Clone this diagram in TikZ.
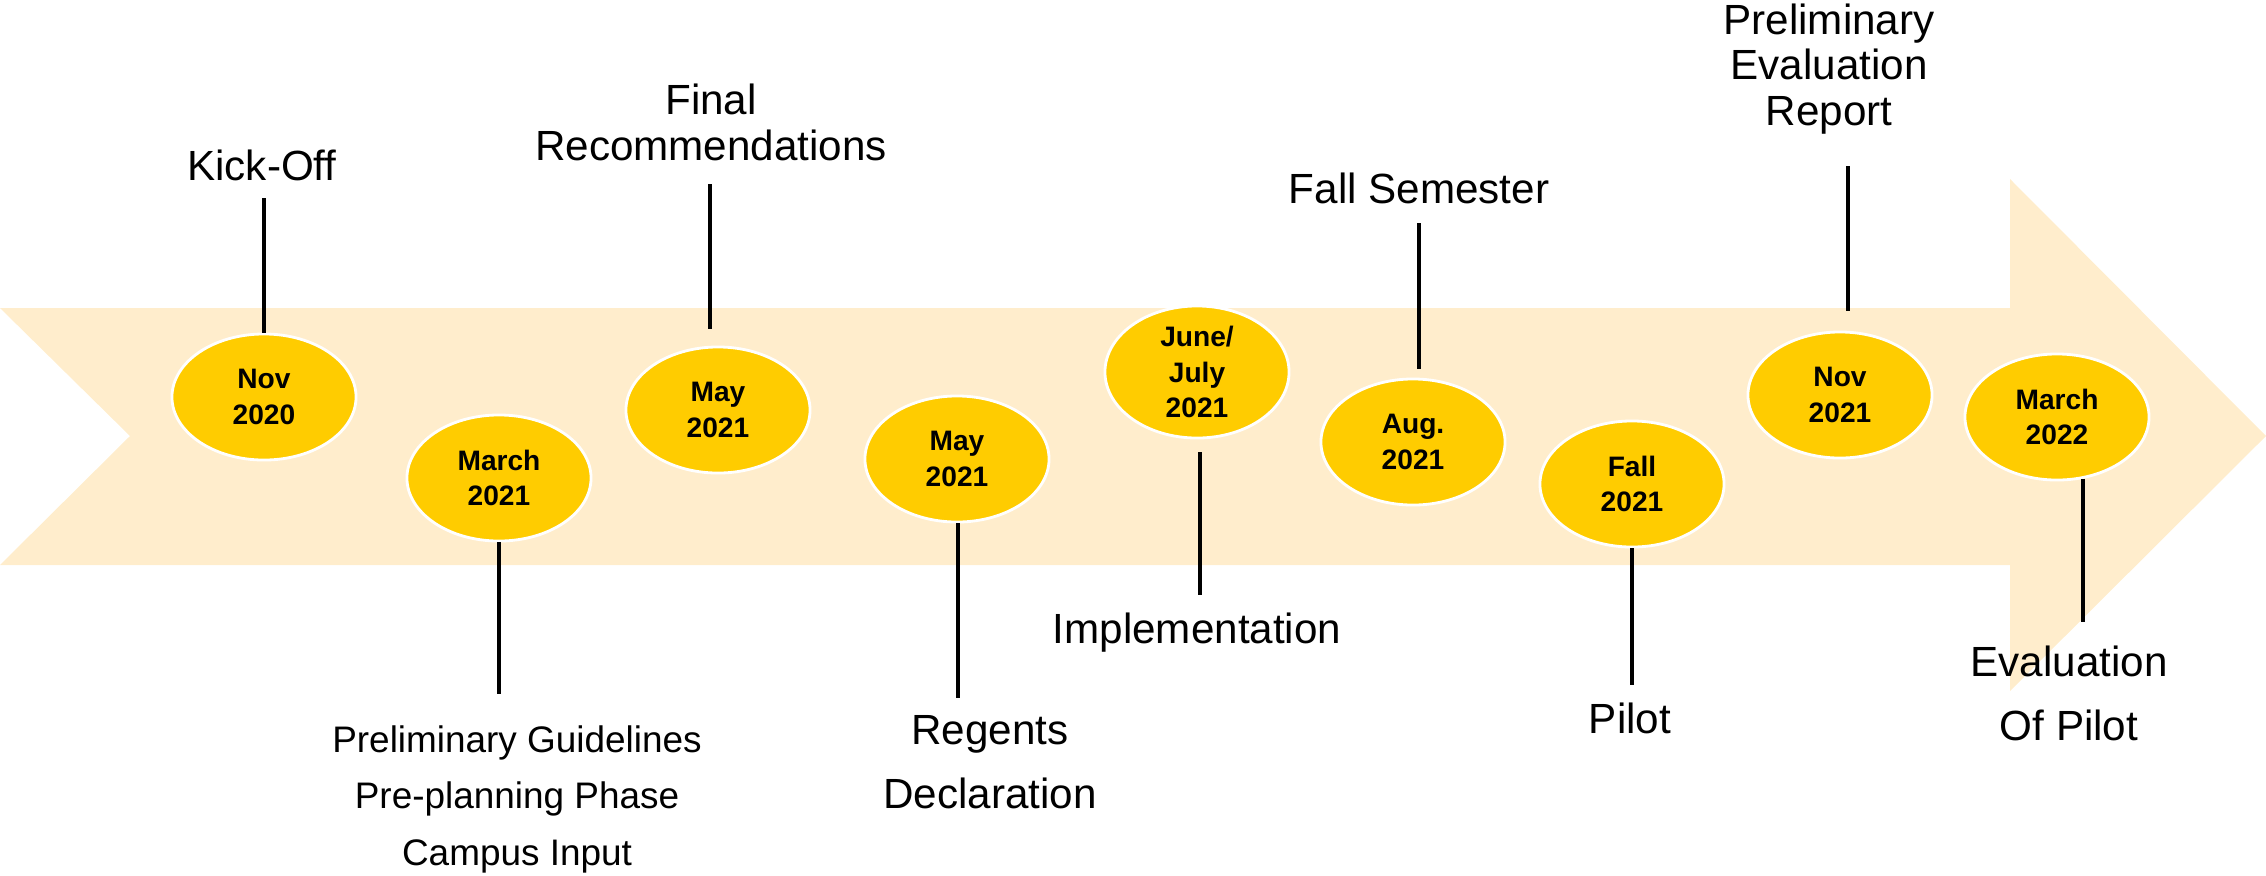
\documentclass[tikz,border=0pt]{standalone}
\usepackage{fontspec}
\setmainfont{Liberation Sans}
\usetikzlibrary{shapes.geometric}
\definecolor{band}{HTML}{FFEDCC}
\definecolor{gold}{HTML}{FFCC00}
\begin{document}
\begin{tikzpicture}[
	x=0.01cm, y=-0.01cm,
	stamp/.style = {ellipse, fill=gold, draw=white, line width=0.8pt, minimum width=1.84cm, minimum height=1.26cm, inner sep=0pt, align=center, font=\bfseries\fontsize{8}{10}\selectfont},
	lbl/.style = {inner sep=0pt, align=center, anchor=base, font=\fontsize{12}{12.8}\selectfont},
	tall/.style = {font=\fontsize{12}{18}\selectfont},
	tick/.style = {draw, line width=1.2pt},
	]
	\useasboundingbox (0,0) rectangle (2266,875);
	\fill[band] (0,308) -- (2010,308) -- (2010,179) -- (2266,436) -- (2010,691) -- (2010,565) -- (0,565) -- (130,436) -- cycle;
	\node[stamp] (nov20) at (264,397) {Nov\\2020};
	\node[stamp] (mar21) at (499,478) {March\\2021};
	\node[stamp] (may21a) at (718,410) {May\\2021};
	\node[stamp] (may21b) at (957,459) {May\\2021};
	\node[stamp, minimum height=1.32cm] (jun21) at (1197,372) {June/\\July\\2021};
	\node[stamp] (aug21) at (1413,442) {Aug.\\2021};
	\node[stamp] (fall21) at (1632,484) {Fall\\2021};
	\node[stamp] (nov21) at (1840,395) {Nov\\2021};
	\node[stamp] (mar22) at (2057,417) {March\\2022};
	\node[lbl] (kickoff) at (262,180) {Kick-Off};
	\node[lbl] (finalrec) at (711,160) {Final\\Recommendations};
	\node[lbl] (fallsem) at (1419,203) {Fall Semester};
	\node[lbl] (prelimrep) at (1829,125) {Preliminary\\Evaluation\\Report};
	\node[lbl, font=\fontsize{10.5}{16}\selectfont] (guidelines) at (517,865) {Preliminary Guidelines\\Pre-planning Phase\\Campus Input};
	\node[lbl, tall] (regents) at (990,808) {Regents\\Declaration};
	\node[lbl] (implement) at (1197,643) {Implementation};
	\node[lbl] (pilot) at (1630,733) {Pilot};
	\node[lbl, tall] (evalpilot) at (2069,740) {Evaluation\\Of Pilot};
	\coordinate (kickoff-tick) at (264,198);
	\coordinate (guidelines-tick) at (499,694);
	\coordinate (finalrec-tick) at (710,184);
	\coordinate (regents-tick) at (958,698);
	\coordinate (implement-tick) at (1200,595);
	\coordinate (fallsem-tick) at (1419,223);
	\coordinate (pilot-tick) at (1632,685);
	\coordinate (prelimrep-tick) at (1848,166);
	\coordinate (evalpilot-tick) at (2083,622);
	\draw[tick] (nov20.north) -- (kickoff-tick);
	\draw[tick] (mar21.south -| guidelines-tick) -- (guidelines-tick);
	\draw[tick, shorten <=0.17cm] (may21a.north -| finalrec-tick) -- (finalrec-tick);
	\draw[tick] (may21b.south -| regents-tick) -- (regents-tick);
	\draw[tick, shorten <=0.13cm] (jun21.south -| implement-tick) -- (implement-tick);
	\draw[tick, shorten <=0.09cm] (aug21.north -| fallsem-tick) -- (fallsem-tick);
	\draw[tick] (fall21.south -| pilot-tick) -- (pilot-tick);
	\draw[tick, shorten <=0.2cm] (nov21.north -| prelimrep-tick) -- (prelimrep-tick);
	\draw[tick, shorten <=-0.025cm] (mar22.south -| evalpilot-tick) -- (evalpilot-tick);
\end{tikzpicture}
\end{document}
